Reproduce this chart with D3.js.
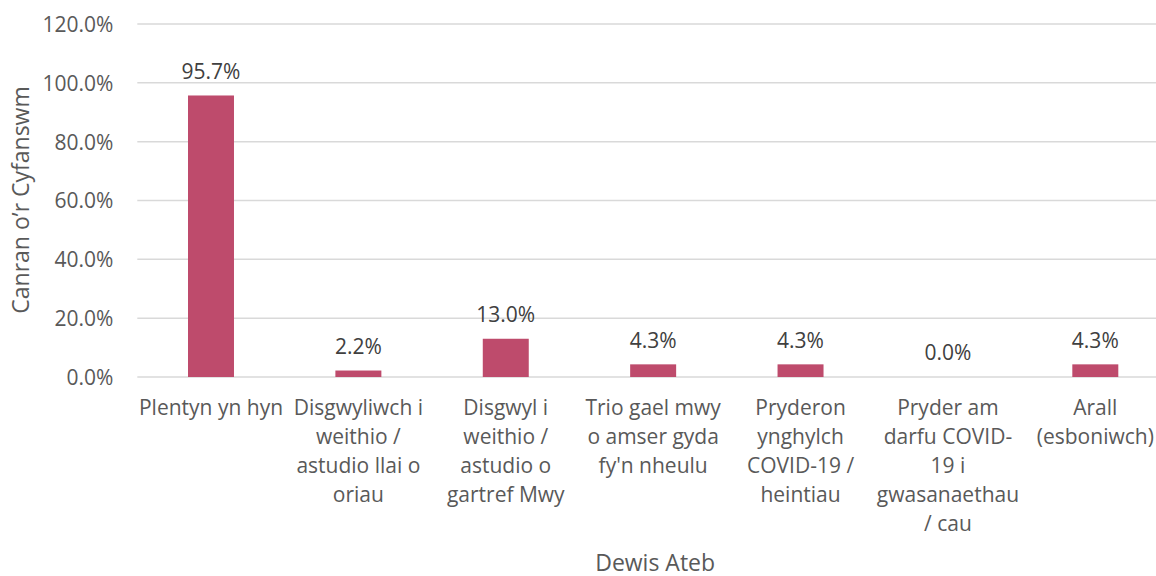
<!DOCTYPE html>
<html><head><meta charset="utf-8">
<script src="https://cdn.jsdelivr.net/npm/d3@7"></script>
<style>
html,body{margin:0;padding:0;background:#fff;}
svg{display:block;}
text{font-family:"Open Sans",sans-serif;}
</style></head>
<body>
<svg id="chart" width="1156" height="576"></svg>
<script>
const categories = [
  "Plentyn yn hyn",
  "Disgwyliwch i\nweithio /\nastudio llai o\noriau",
  "Disgwyl i\nweithio /\nastudio o\ngartref Mwy",
  "Trio gael mwy\no amser gyda\nfy'n nheulu",
  "Pryderon\nynghylch\nCOVID-19 /\nheintiau",
  "Pryder am\ndarfu COVID-\n19 i\ngwasanaethau\n/ cau",
  "Arall\n(esboniwch)"
];
const values = [95.7, 2.2, 13.0, 4.3, 4.3, 0.0, 4.3];
const yTicks = [0, 20, 40, 60, 80, 100, 120];
const yTitle = "Canran o\u2019r Cyfanswm";
const xTitle = "Dewis Ateb";

(function() {
const svg = d3.select("#chart");
const mLeft = 137.3, mRight = 1169, mTop = 24, mBottom = 377;

const x = d3.scaleBand().domain(categories).range([mLeft, mRight])
  .paddingInner(0.688).paddingOuter(0.344);
const y = d3.scaleLinear().domain([0, 120]).range([mBottom, mTop]);

svg.append("g").selectAll("line").data(yTicks).join("line")
  .attr("x1", mLeft).attr("x2", mRight)
  .attr("y1", d => y(d)).attr("y2", d => y(d))
  .attr("stroke", "#d9d9d9").attr("stroke-width", 1.5);

const yAxis = d3.axisLeft(y).tickValues(yTicks).tickSize(0).tickPadding(0)
  .tickFormat(d => d.toFixed(1) + "%");
const gy = svg.append("g").attr("transform", `translate(${mLeft - 24},0)`).call(yAxis);
gy.select(".domain").remove();
gy.selectAll("text").attr("fill", "#595959").style("font-size", "21px")
  .style("font-family", "'Open Sans',sans-serif").attr("dy", "0.35em");

svg.append("g").selectAll("rect").data(values).join("rect")
  .attr("x", (d, i) => x(categories[i]))
  .attr("width", x.bandwidth())
  .attr("y", d => y(d))
  .attr("height", d => y(0) - y(d))
  .attr("fill", "#be4b6c");

svg.append("g").selectAll("text").data(values).join("text")
  .attr("x", (d, i) => x(categories[i]) + x.bandwidth() / 2)
  .attr("y", d => y(d) - 24)
  .attr("dy", "0.35em")
  .attr("text-anchor", "middle")
  .attr("fill", "#404040")
  .style("font-size", "21px")
  .text(d => d.toFixed(1) + "%");

const xAxis = d3.axisBottom(x).tickSize(0).tickPadding(0).tickFormat("");
const gx = svg.append("g").attr("transform", `translate(0,${mBottom})`).call(xAxis);
gx.select(".domain").remove();
gx.selectAll(".tick").each(function(d) {
  const lines = d.split("\n");
  const t = d3.select(this).append("text")
    .attr("text-anchor", "middle").attr("fill", "#595959")
    .style("font-size", "21px");
  lines.forEach((l, i) => {
    t.append("tspan").attr("x", 0).attr("y", 31 + i * 29).attr("dy", "0.35em").text(l);
  });
});

svg.append("text")
  .attr("x", (mLeft + mRight) / 2 + 2).attr("y", 563).attr("dy", "0.35em")
  .attr("text-anchor", "middle").attr("fill", "#595959")
  .style("font-size", "23px").text(xTitle);

svg.append("text")
  .attr("transform", `translate(21,200) rotate(-90)`)
  .attr("dy", "0.35em")
  .attr("text-anchor", "middle").attr("fill", "#595959")
  .style("font-size", "23px").text(yTitle);
})();
</script>
</body></html>
